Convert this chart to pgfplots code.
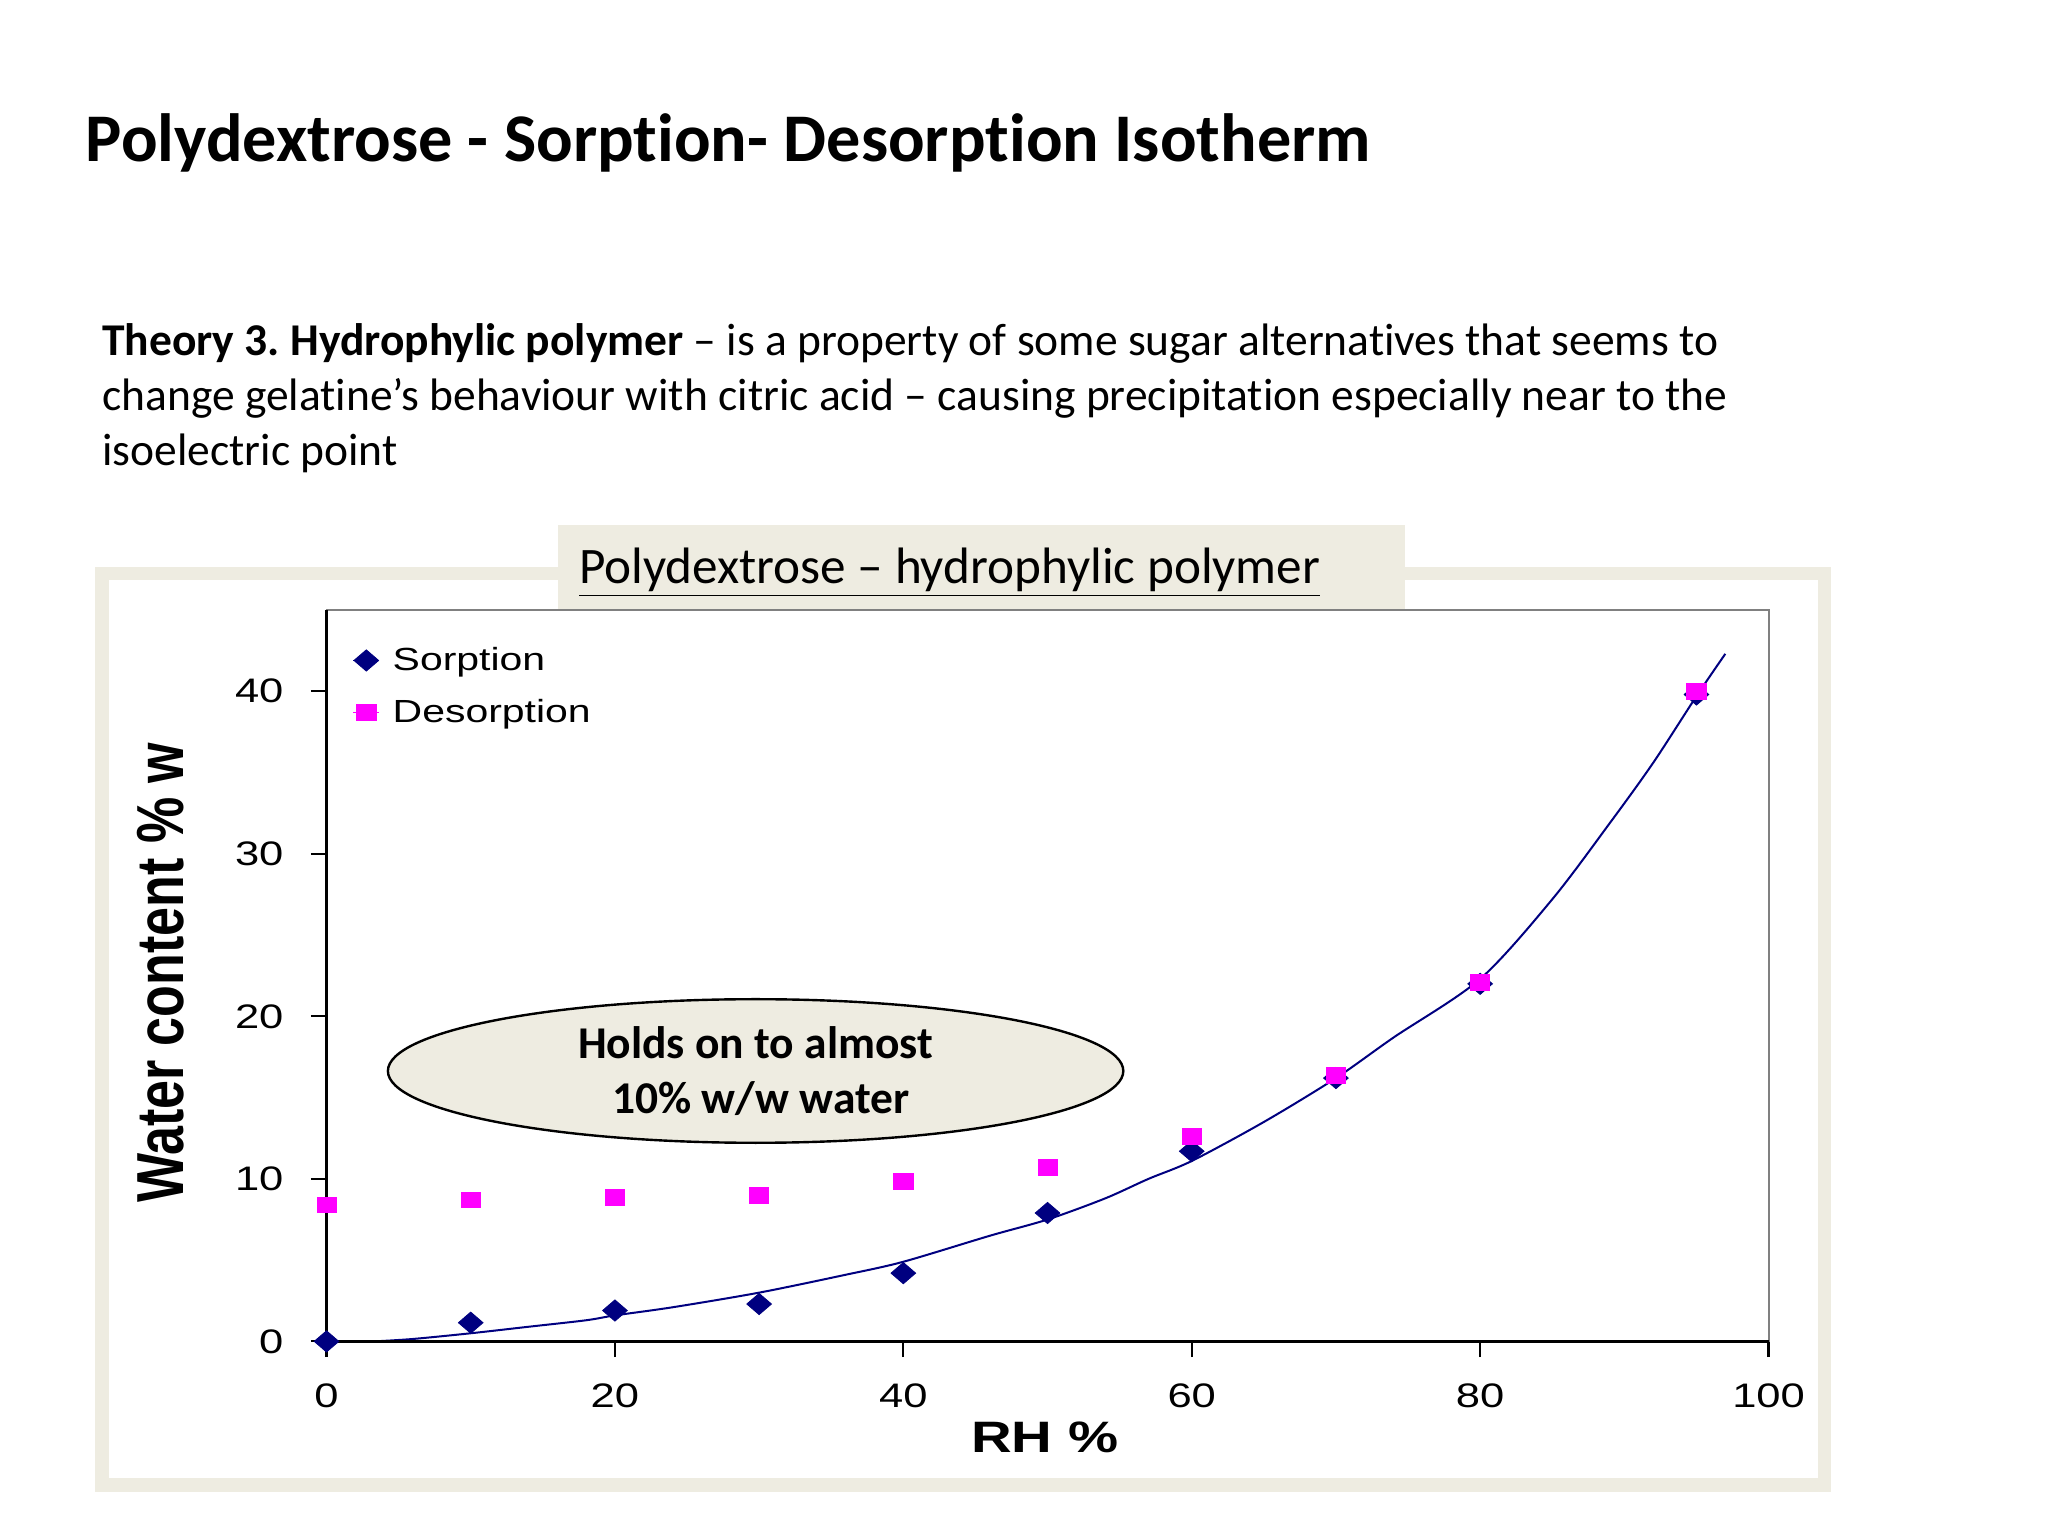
\documentclass[border=0pt]{standalone}
\usepackage{fontspec}
\setmainfont{Carlito}[Ligatures={TeX,NoCommon}]
\newfontfamily\chartfont[FakeStretch=1.28]{Liberation Sans}
\newfontfamily\chartfontplain{Liberation Sans}
\usepackage{graphicx}
\usepackage{pgfplots}
\pgfplotsset{compat=1.18}

\definecolor{slideTan}{HTML}{EEECE1}
\definecolor{xlNavy}{RGB}{0,0,128}
\definecolor{xlMagenta}{RGB}{255,0,255}

\begin{document}
\frenchspacing
\begin{tikzpicture}[x=0.5bp, y=0.5bp]
% slide background, 2048 x 1536 px
\fill[white] (0,0) rectangle (2048,1536);

% slide title and body text
\node[anchor=base west, inner sep=0pt, font=\bfseries\fontsize{34.1bp}{40bp}\selectfont]
  at (85.5,1374.4) {Polydextrose - Sorption- Desorption Isotherm};
\begin{scope}[every node/.style={anchor=base west, inner sep=0pt,
    font=\fontsize{22.75bp}{27.5bp}\selectfont}]
  \node at (101.9,1180) {\textbf{Theory 3. Hydrophylic polymer} -- is a property of some sugar alternatives that seems to};
  \node at (101.9,1125.4) {change gelatine's behaviour with citric acid -- causing precipitation especially near to the};
  \node at (101.9,1070) {isoelectric point};
\end{scope}

% chart frame and caption box
\draw[slideTan, line width=6.75bp] (102,51.2) rectangle (1824.5,962.3);
\fill[slideTan] (557.7,927.3) rectangle (1405.4,1011);
\node[anchor=base west, inner sep=0pt, font=\fontsize{25.6bp}{30bp}\selectfont]
  at (578.6,952) {\underline{Polydextrose -- hydrophylic polymer}};

\begin{axis}[
  at={(163.25bp,97.3bp)}, anchor=south west,
  scale only axis, width=721bp, height=365.7bp,
  xmin=0, xmax=100, ymin=0, ymax=45,
  xtick={0,20,...,100}, ytick={0,10,...,40},
  clip=false,
  axis line style={draw=gray, line width=1bp},
  tick align=outside, xtick pos=bottom, ytick pos=left,
  major tick length=7.85bp,
  tick style={black, line width=1.1bp},
  /pgf/number format/assume math mode=true,
  tick label style={font=\chartfont\fontsize{17bp}{20bp}\selectfont},
  xticklabel style={anchor=center, yshift=-19.5bp, inner sep=0pt},
  yticklabel style={anchor=east, xshift=-13.5bp, inner sep=0pt},
  xlabel={RH \%},
  ylabel={\scalebox{1}[1.28]{Water content \% w}},
  every axis x label/.style={at={(axis description cs:0.498,-0.1307)}, anchor=center,
    font=\chartfont\bfseries\fontsize{22bp}{24bp}\selectfont},
  every axis y label/.style={at={(axis description cs:-0.1151,0.504)}, anchor=center,
    rotate=90, font=\chartfontplain\bfseries\fontsize{26bp}{28bp}\selectfont},
  legend style={at={(axis description cs:0,1)}, anchor=north west,
    xshift=13bp, yshift=-18.5bp, draw=none, fill=none, inner sep=0pt,
    row sep=13bp, column sep=6.5bp,
    font=\chartfont\fontsize{16bp}{18bp}\selectfont, nodes={inner sep=0pt}},
  legend cell align=left,
  legend image code/.code={\draw[#1] plot coordinates {(6.5bp,0bp)}; \path (0bp,0bp) -- (13bp,0bp);},
]

\addplot[only marks, color=xlNavy, mark=diamond*, mark size=5.3bp,
  mark options={xscale=1.55, fill=xlNavy, draw=xlNavy}]
  coordinates {(0,0) (10,1.15) (20,1.9) (30,2.3) (40,4.2) (50,7.9)
               (60,11.7) (70,16.2) (80,22.0) (95,39.8)};
\addlegendentry{Sorption}

\addplot[only marks, color=xlMagenta, mark=square*, mark size=4.8bp,
  mark options={yscale=0.82, fill=xlMagenta, draw=xlMagenta}]
  coordinates {(0,8.4) (10,8.7) (20,8.85) (30,9.0) (40,9.85) (50,10.7)
               (60,12.6) (70,16.35) (80,22.1) (95,40.0)};
\addlegendentry{Desorption}

% fitted trend line
\addplot[xlNavy, line width=1bp, no marks, smooth, forget plot]
  coordinates {(3.3,0) (6,0.15) (10,0.5) (14,0.9) (18,1.3) (20,1.6) (24,2.1)
               (30,3.0) (36,4.1) (40,4.9) (46,6.5) (50,7.5) (54,8.8) (57,10.0)
               (60,11.1) (65,13.5) (70,16.2) (74,18.7) (80,22.3) (85,27.2)
               (89,31.9) (92,35.6) (95,39.7) (97,42.3)};

% black value and category axes over the grey plot-area border
\draw[black, line width=1.3bp] (rel axis cs:0,1) -- (rel axis cs:0,0) -- (rel axis cs:1,0);
\end{axis}

% callout
\draw[black, line width=1.2bp, fill=slideTan] (755.6,465) ellipse [x radius=183.85bp, y radius=35.9bp];
\node[anchor=base, inner sep=0pt, font=\bfseries\fontsize{22.75bp}{26bp}\selectfont]
  at (755.6,477) {Holds on to almost};
\node[anchor=base, inner sep=0pt, font=\bfseries\fontsize{22.75bp}{26bp}\selectfont]
  at (760.8,422) {10\% w/w water};
\end{tikzpicture}
\end{document}
